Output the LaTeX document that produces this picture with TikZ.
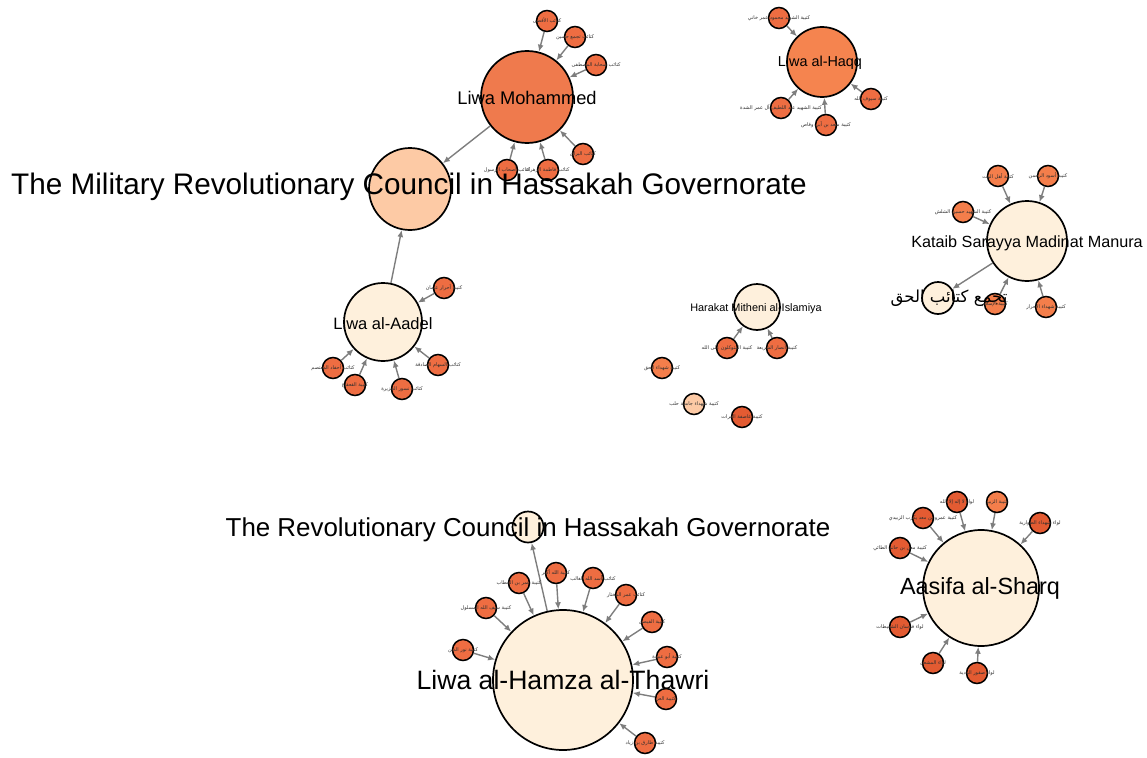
\documentclass[tikz,border=0pt]{standalone}
\usepackage{fontspec}
\setmainfont{Liberation Sans}
\newfontfamily\arabicfont[Script=Arabic]{DejaVu Sans}
\TeXXeTstate=1
\usetikzlibrary{arrows.meta}
\definecolor{cream}{HTML}{FEF0DC}
\definecolor{peach}{HTML}{FDCAA5}
\definecolor{ormohammed}{HTML}{EF7A4D}
\definecolor{orhaqq}{HTML}{F5844F}
\definecolor{orsmall}{HTML}{EE6D42}
\definecolor{orlight}{HTML}{F47E4B}
\definecolor{ordark}{HTML}{E35B32}
\definecolor{edgegray}{HTML}{7E7E7E}
\definecolor{inkgray}{HTML}{2E2E2E}
\newcommand{\artxt}[1]{{\arabicfont\beginR #1\endR}}

\begin{document}
\begin{tikzpicture}[x=1pt, y=-1pt,
  hub/.style={circle, draw=black, line width=1.7pt, fill=#1, inner sep=0pt},
  unit/.style={circle, draw=black, line width=1.5pt, fill=#1, minimum size=21pt, inner sep=0pt},
  tag/.style={font=\fontsize{5}{5.5}\selectfont, text=inkgray, inner sep=0pt},
  big/.style={font=\fontsize{#1}{#1}\selectfont, inner sep=0pt},
  link/.style={-{Latex[length=7pt,width=6pt]}, draw=edgegray, line width=1.4pt}]
\useasboundingbox (0,0) rectangle (1147,757);

% hubs
\node[hub=ormohammed, minimum size=92pt] (mohammed) at (527,97) {};
\node[hub=peach, minimum size=82pt] (military) at (410,189) {};
\node[hub=cream, minimum size=78pt] (aadel) at (383,322) {};
\node[hub=orhaqq, minimum size=70pt] (haqq) at (822,62) {};
\node[hub=cream, minimum size=80pt] (sarayya) at (1027,241) {};
\node[hub=cream, minimum size=32pt] (tajammu) at (938,298) {};
\node[hub=cream, minimum size=46pt] (harakat) at (757,307) {};
\node[hub=cream, minimum size=140pt] (hamza) at (563,680) {};
\node[hub=cream, minimum size=31pt] (revcouncil) at (528,527) {};
\node[hub=cream, minimum size=116pt] (aasifa) at (981,588) {};

\draw[link] (mohammed) -- (military);
\draw[link] (aadel) -- (military);
\draw[link] (sarayya) -- (tajammu);
\draw[link] (hamza) -- (revcouncil);

% Liwa Mohammed
\foreach \n/\x/\y/\t in {m1/547/21/كتائب الأقصى, m2/575/37/كتائب تجمع حسين, m3/596/65/كتائب صحابة المصطفى,
  m4/583/154/كتائب البراق, m5/548/170/كتائب فاطمة الزهراء, m6/507/170/كتائب أصحاب الرسول}
{\node[unit=orsmall] (\n) at (\x,\y) {};
 \node[tag] (\n-t) at (\n) {\artxt{\t}};
 \draw[link] (\n) -- (mohammed);}

% Liwa al-Haqq
\foreach \n/\x/\y/\t in {h1/779/18/كتيبة الشهيد محمود عمر خاني, h2/871/99/كتيبة سيوف الله,
  h3/781/108/كتيبة الشهيد عبد اللطيف آل عمر الشدة, h4/826/125/كتيبة سعد بن أبي وقاص}
{\node[unit=orsmall] (\n) at (\x,\y) {};
 \node[tag] (\n-t) at (\n) {\artxt{\t}};
 \draw[link] (\n) -- (haqq);}

% Kataib Sarayya Madinat Manura
\foreach \n/\x/\y/\t in {k1/998/176/كتيبة أهل البيت, k2/1048/176/كتيبة أسود الرحمن, k3/963/212/كتيبة الشهيد حسين الشلش,
  k4/995/304/كتيبة الإسلام, k5/1046/307/كتيبة شهداء الأحرار}
{\node[unit=orlight] (\n) at (\x,\y) {};
 \node[tag] (\n-t) at (\n) {\artxt{\t}};
 \draw[link] (\n) -- (sarayya);}

% Liwa al-Aadel
\foreach \n/\x/\y/\t in {a1/444/288/كتيبة أحرار عثمان, a2/333/368/كتائب أحفاد المعتصم, a3/355/385/كتيبة القعقاع,
  a4/402/389/كتائب نسور الجزيرة, a5/438/365/كتائب السهام الصادقة}
{\node[unit=orsmall] (\n) at (\x,\y) {};
 \node[tag] (\n-t) at (\n) {\artxt{\t}};
 \draw[link] (\n) -- (aadel);}

% Harakat Mitheni al-Islamiya
\foreach \n/\x/\y/\t in {r1/727/348/كتيبة المتوكلون على الله, r2/777/348/كتيبة أنصار الشريعة}
{\node[unit=orsmall] (\n) at (\x,\y) {};
 \node[tag] (\n-t) at (\n) {\artxt{\t}};
 \draw[link] (\n) -- (harakat);}

% loose units
\node[unit=orlight] (i1) at (662,368) {};
\node[tag] (i1-t) at (i1) {\artxt{كتيبة شهداء الحق}};
\node[unit=peach] (i2) at (694,404) {};
\node[tag] (i2-t) at (i2) {\artxt{كتيبة شهداء جامعة حلب}};
\node[unit=ordark] (i3) at (742,417) {};
\node[tag] (i3-t) at (i3) {\artxt{كتيبة عاصفة الفرات}};

% Liwa al-Hamza al-Thawri
\foreach \n/\x/\y/\t in {z1/463/650/كتيبة نور الدين, z2/486/608/كتيبة سيف الله المسلول, z3/519/583/كتيبة عمر بن الخطاب,
  z4/556/573/كتيبة الله أكبر, z5/593/578/كتائب أسد الله الغالب, z6/626/595/كتائب عمر المختار,
  z7/652/622/كتيبة الفيصل, z8/667/657/كتيبة أبو عبيدة, z9/666/699/كتيبة العز, z10/645/743/كتيبة طارق بن زياد}
{\node[unit=orsmall] (\n) at (\x,\y) {};
 \node[tag] (\n-t) at (\n) {\artxt{\t}};
 \draw[link] (\n) -- (hamza);}

% Aasifa al-Sharq
\foreach \n/\x/\y/\c/\t in {s1/957/502/ordark/لواء لا إله إلا الله, s2/997/502/orlight/كتيبة الزبير, s3/1040/523/ordark/لواء شهداء الطوارية,
  s4/923/518/ordark/كتيبة عمرو بن معد يكرب الزبيدي, s5/900/548/ordark/كتيبة معن بن حاتم الطائي, s6/900/627/ordark/لواء فرسان الشعيطات,
  s7/933/663/ordark/لواء المشعل, s8/977/673/ordark/لواء صقور البادية}
{\node[unit=\c] (\n) at (\x,\y) {};
 \node[tag] (\n-t) at (\n) {\artxt{\t}};
 \draw[link] (\n) -- (aasifa);}

% hub labels
\node[big=18.3] (mohammed-t) at (527,98) {Liwa Mohammed};
\node[big=29.7] (military-t) at (409,187) {The Military Revolutionary Council in Hassakah Governorate};
\node[big=16.5] (aadel-t) at (383,324) {Liwa al-Aadel};
\node[big=14.4] (haqq-t) at (820,63) {Liwa al-Haqq};
\node[big=16.2] (sarayya-t) at (1027,243) {Kataib Sarayya Madinat Manura};
\node[inner sep=0pt, font=\arabicfont\fontsize{16.5}{17}\selectfont] (tajammu-t) at (949,298) {\beginR تجمع كتائب الحق\endR};
\node[big=10.9] (harakat-t) at (756,309) {Harakat Mitheni al-Islamiya};
\node[big=25.9] (revcouncil-t) at (528,530) {The Revolutionary Council in Hassakah Governorate};
\node[big=26.6] (hamza-t) at (563,680) {Liwa al-Hamza al-Thawri};
\node[big=23.4] (aasifa-t) at (980,588) {Aasifa al-Sharq};
\end{tikzpicture}
\end{document}
